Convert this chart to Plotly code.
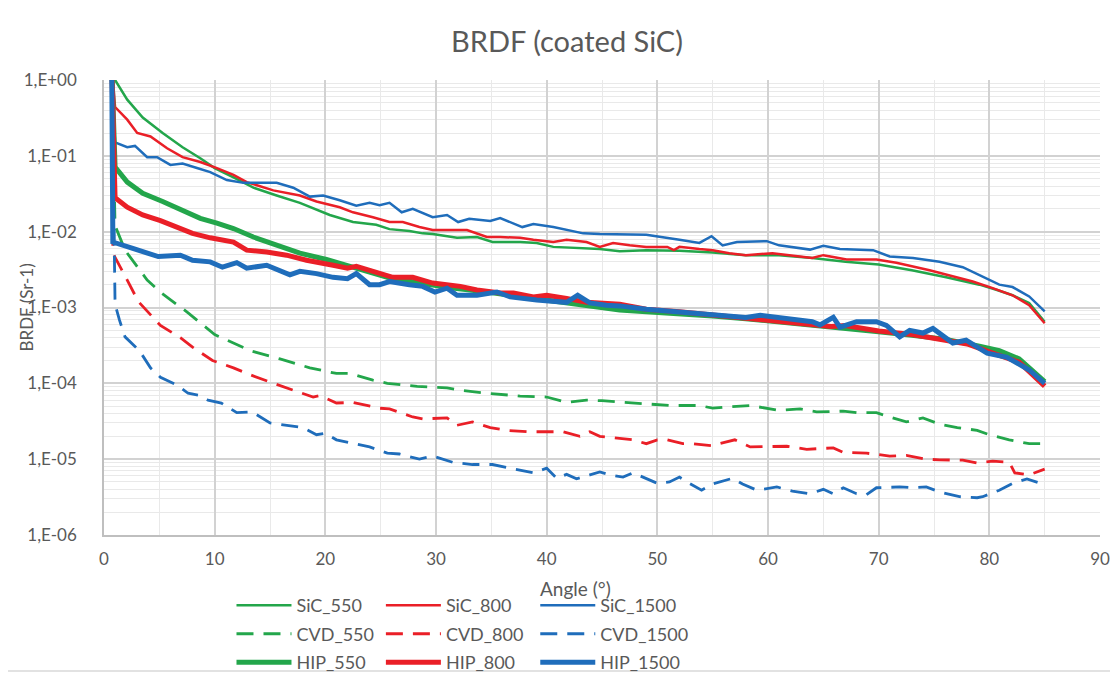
import plotly.graph_objects as go

# ---------------- data ----------------
SIC_550_X = [0.7, 1, 2.1, 3.5, 5.3, 7.1, 8.7, 10, 11.7, 13.5, 15.6, 17.7, 20.4, 22.5, 24.6, 25.8, 27.6, 28.8,
             29.7, 31.9, 33.7, 35.1, 37.6, 39.1, 40.6, 43, 44.8, 46.6, 49, 52, 55, 58, 61, 64, 67, 70, 73,
             76.1, 79.1, 80.7, 82.1, 83.6, 85]
SIC_550_Y = [1.5, 1.0, 0.55, 0.32, 0.20, 0.13, 0.093, 0.069, 0.052, 0.038, 0.030, 0.024, 0.0166, 0.0134,
             0.0123, 0.0108, 0.0102, 0.0095, 0.0093, 0.0083, 0.0085, 0.0073, 0.0073, 0.0071, 0.0063, 0.0060,
             0.0059, 0.0055, 0.0057, 0.0056, 0.0053, 0.0049, 0.0049, 0.0045, 0.0040, 0.0037, 0.0031, 0.0025,
             0.0020, 0.0017, 0.00145, 0.00115, 0.00065]

SIC_800_X = [0.7, 1, 2.1, 3, 4.2, 5.7, 7.1, 8.7, 10.2, 11.7, 12.9, 15.3, 17.7, 19.2, 21.3, 22.5, 24.3, 25.8,
             27, 28.5, 29.7, 31.5, 32.8, 34.6, 35.8, 37.6, 38.8, 40.6, 41.8, 43.6, 44.8, 46, 47.5, 49, 50.9,
             51.5, 52, 53.8, 55, 56.5, 58, 60.4, 62, 64, 65, 67.1, 69.8, 71.6, 74.6, 76.1, 78.5, 80.3, 82.1,
             83.6, 85]
SIC_800_Y = [1.5, 0.44, 0.30, 0.20, 0.18, 0.126, 0.096, 0.083, 0.069, 0.056, 0.045, 0.035, 0.030, 0.025,
             0.021, 0.018, 0.0155, 0.0134, 0.0134, 0.0115, 0.0105, 0.0105, 0.0105, 0.0085, 0.0085, 0.0083,
             0.0078, 0.0073, 0.0078, 0.0073, 0.0063, 0.0071, 0.0066, 0.0063, 0.0063, 0.0057, 0.0063, 0.0059,
             0.0057, 0.0052, 0.0049, 0.0052, 0.0049, 0.0045, 0.0049, 0.0043, 0.0043, 0.0039, 0.0031, 0.0027,
             0.0022, 0.0018, 0.00145, 0.00107, 0.00062]

SIC_1500_X = [0.7, 1, 2.1, 2.8, 3.9, 4.8, 6, 7.1, 8.4, 9.6, 11.1, 12.6, 14.1, 15.6, 17.1, 18.6, 19.8, 21.3,
              22.8, 24, 24.9, 25.8, 26.9, 27.9, 29.7, 31, 32, 33, 34.9, 35.8, 37.8, 38.8, 40.6, 41.8, 43.3,
              44.8, 46.6, 49, 52, 53.8, 54.9, 55.9, 57.2, 59.9, 61, 63.8, 65, 66.5, 69.5, 71, 73.1, 75.5,
              77.6, 79.1, 80.9, 82.1, 83.6, 85]
SIC_1500_Y = [1.5, 0.15, 0.13, 0.135, 0.096, 0.096, 0.076, 0.079, 0.069, 0.061, 0.048, 0.044, 0.044, 0.044,
              0.038, 0.029, 0.030, 0.026, 0.022, 0.024, 0.0224, 0.024, 0.018, 0.020, 0.0155, 0.0166, 0.0134,
              0.0148, 0.0138, 0.0151, 0.0115, 0.0126, 0.0115, 0.0105, 0.0095, 0.0093, 0.0093, 0.0091, 0.0078,
              0.0071, 0.0087, 0.0066, 0.0073, 0.0075, 0.0066, 0.0058, 0.0065, 0.0059, 0.0057, 0.0047, 0.0045,
              0.0040, 0.0034, 0.0027, 0.0020, 0.00186, 0.0014, 0.00089]

CVD_550_X = [0.7, 1, 1.9, 3.9, 5.2, 7.6, 10, 13.2, 15.9, 18.6, 21, 22.2, 24.3, 25.6, 28.3, 31, 32.2, 34.6,
             37.6, 40, 41.8, 43.6, 45, 48.1, 51.1, 53.8, 55, 56.3, 58.4, 61, 62.9, 64.4, 66.8, 68, 69.8, 71,
             72.5, 74, 75.5, 77.1, 78.9, 80, 81.8, 83.6, 85]
CVD_550_Y = [1.5, 0.012, 0.0057, 0.0023, 0.00155, 0.00085, 0.00044, 0.00027, 0.00021, 0.00016, 0.000135,
             0.000135, 0.00011, 0.0001, 0.000091, 0.000087, 0.000081, 0.000074, 0.000068, 0.000066, 0.000056,
             0.00006, 0.000059, 0.000055, 0.000051, 0.000051, 0.000047, 0.000049, 0.000051, 0.000044,
             0.000046, 0.000042, 0.000043, 0.000041, 0.000041, 0.000036, 0.000031, 0.000035, 0.000029,
             0.000026, 0.000024, 0.000021, 0.000018, 0.000016, 0.000016]

CVD_800_X = [0.7, 0.8, 2.1, 3.1, 5.1, 6.9, 8, 9.8, 11.7, 13.2, 15.3, 17.7, 18.9, 19.5, 21, 22.5, 24.9, 25.8,
             27.9, 28.8, 31, 31.9, 33.3, 34.9, 36.4, 38.2, 40.3, 41.5, 43, 43.9, 44.8, 46, 47.8, 49, 50, 50.9,
             52.3, 53.2, 55, 55.6, 57, 58.4, 59.9, 61.7, 63.5, 65, 65.9, 66.8, 68.9, 71, 72.5, 74.3, 75.5,
             77.6, 78.9, 80.3, 81.8, 82.3, 83.6, 85]
CVD_800_Y = [1.5, 0.0052, 0.0023, 0.0012, 0.00058, 0.0004, 0.0003, 0.0002, 0.00016, 0.00013, 0.0001,
             0.000076, 0.000066, 0.000069, 0.000055, 0.000056, 0.000047, 0.000046, 0.000036, 0.000034,
             0.000035, 0.000028, 0.000031, 0.000026, 0.000024, 0.000023, 0.000023, 0.000023, 0.00002,
             0.000023, 0.00002, 0.000019, 0.000018, 0.000016, 0.000018, 0.000018, 0.000016, 0.000016,
             0.000015, 0.000016, 0.000018, 0.0000145, 0.0000145, 0.0000148, 0.0000135, 0.0000138,
             0.0000141, 0.0000123, 0.000012, 0.000011, 0.0000112, 0.00001, 0.0000098, 0.0000097, 0.0000089,
             0.0000094, 0.0000091, 0.0000066, 0.0000062, 0.0000074]

CVD_1500_X = [0.7, 1, 1.4, 1.9, 3.2, 4.2, 5.1, 6.6, 7.6, 8.7, 9.4, 10.6, 12, 13.4, 15, 16.5, 18, 19.2, 20,
              21, 22.5, 24, 25.6, 26.7, 28.5, 29.7, 31.5, 33.3, 35.1, 36.7, 38.8, 40, 40.9, 41.8, 42.7, 43.9,
              44.8, 45.7, 46.9, 47.8, 48.7, 50, 51.1, 52, 52.9, 54, 55, 55.6, 56.8, 57.7, 59, 60.8, 62.2,
              63.8, 65, 65.9, 66.8, 68, 68.9, 69.8, 71.9, 73.1, 74.3, 75.5, 77.3, 78.9, 79.4, 80.9, 82.1,
              83.4, 85]
CVD_1500_Y = [1.5, 0.0011, 0.00068, 0.00041, 0.00027, 0.00016, 0.00012, 0.000095, 0.000074, 0.000069,
              0.00006, 0.000055, 0.000041, 0.000042, 0.00003, 0.000028, 0.000026, 0.000021, 0.000022,
              0.000018, 0.000016, 0.0000145, 0.000012, 0.0000117, 0.00001, 0.000011, 0.0000091, 0.0000085,
              0.0000085, 0.0000076, 0.0000066, 0.0000076, 0.0000056, 0.0000063, 0.0000055, 0.0000062,
              0.0000068, 0.0000062, 0.0000058, 0.0000066, 0.0000058, 0.0000048, 0.000005, 0.0000058,
              0.0000048, 0.0000039, 0.0000047, 0.000005, 0.0000056, 0.0000047, 0.0000039, 0.0000043,
              0.0000038, 0.0000035, 0.000004, 0.0000035, 0.0000042, 0.0000035, 0.0000034, 0.0000042,
              0.0000043, 0.0000042, 0.0000043, 0.0000037, 0.0000032, 0.0000031, 0.0000032, 0.0000039,
              0.0000048, 0.0000055, 0.0000046]

HIP_550_X = [0.7, 1, 2.1, 3.5, 5.3, 7.1, 8.7, 10.2, 11.7, 13.5, 15.6, 17.7, 20.1, 22.5, 25.6, 28.5, 31.5,
             34.6, 37.6, 40.6, 43.6, 46.6, 49, 52, 55, 58, 61, 64, 67, 70, 73, 76.1, 79.1, 80.9, 82.7, 85]
HIP_550_Y = [1.5, 0.071, 0.045, 0.032, 0.025, 0.019, 0.015, 0.013, 0.011, 0.0085, 0.0066, 0.0052, 0.0043,
             0.0034, 0.0025, 0.0021, 0.0018, 0.0016, 0.0014, 0.0012, 0.00107, 0.00093, 0.00088, 0.00083,
             0.00077, 0.00071, 0.00065, 0.00059, 0.00053, 0.00048, 0.00043, 0.00038, 0.00031, 0.00027,
             0.00021, 0.000105]

HIP_800_X = [0.7, 1, 2.1, 3.5, 5.1, 6.6, 8, 9.6, 11.7, 12.9, 14.7, 16.5, 18.3, 20.7, 22, 22.8, 24.3, 26.1,
             27.9, 29.7, 32.2, 33.7, 35.8, 37, 38.8, 40, 41.8, 43.6, 46.6, 49, 52, 55, 58, 61, 63.5, 65.7,
             67, 70, 73, 76, 78, 80, 82.7, 85]
HIP_800_Y = [1.5, 0.028, 0.021, 0.0166, 0.014, 0.0115, 0.0095, 0.0083, 0.0073, 0.0057, 0.0054, 0.0049,
             0.0042, 0.0036, 0.0033, 0.0035, 0.0030, 0.0025, 0.0025, 0.0021, 0.0019, 0.0017, 0.00155,
             0.00155, 0.00138, 0.00145, 0.00132, 0.00117, 0.0011, 0.00095, 0.00088, 0.0008, 0.00074,
             0.00066, 0.00062, 0.00056, 0.00058, 0.00049, 0.00044, 0.00037, 0.00033, 0.00026, 0.00019,
             0.000092]

HIP_1500_X = [0.7, 0.8, 2.6, 3.5, 4.9, 6.9, 8, 9.6, 10.7, 12, 12.9, 14.7, 16.8, 17.7, 19.2, 20.7, 22, 22.8,
              24, 24.9, 25.8, 27.6, 28.8, 29.9, 31, 31.9, 33.7, 35.5, 36.7, 39.1, 40.6, 41.8, 42.8, 43.9,
              45.4, 46.6, 49, 52, 55, 58, 59.3, 62, 64, 64.7, 65.9, 66.5, 68, 69.8, 70.7, 71.9, 72.8, 74,
              74.9, 76.7, 77.9, 79.8, 81.6, 83.6, 85]
HIP_1500_Y = [1.5, 0.0073, 0.006, 0.0054, 0.0047, 0.0049, 0.0042, 0.004, 0.0034, 0.0039, 0.0033, 0.0036,
              0.0027, 0.0030, 0.0028, 0.0025, 0.0024, 0.0028, 0.0020, 0.0020, 0.0022, 0.0020, 0.0019, 0.0016,
              0.0018, 0.00145, 0.00145, 0.0016, 0.00138, 0.00126, 0.0012, 0.00117, 0.00145, 0.00115,
              0.00107, 0.00105, 0.00095, 0.00087, 0.00079, 0.00074, 0.00079, 0.0007, 0.00065, 0.00059,
              0.00074, 0.00055, 0.00065, 0.00065, 0.00058, 0.00041, 0.0005, 0.00046, 0.00053, 0.00034,
              0.00037, 0.00025, 0.00022, 0.00015, 0.0001]

Y_TICK_VALS = [1e-6, 1e-5, 1e-4, 1e-3, 1e-2, 1e-1, 1]
Y_TICK_TEXT = ["1,E-06", "1,E-05", "1,E-04", "1,E-03", "1,E-02", "1,E-01", "1,E+00"]

GREEN, RED, BLUE = "#23a64b", "#ea1f27", "#1f6dbb"
FONT = "Lato"
TXT = "#595959"

# the page's body has an 8 px default margin, so the figure is drawn 8 px smaller
W, H = 1110, 668
ML, MT, PW, PH = 96, 72, 996, 455

series = [
    ("SiC_550", SIC_550_X, SIC_550_Y, GREEN, 2.5, "solid", "legend"),
    ("SiC_800", SIC_800_X, SIC_800_Y, RED, 2.5, "solid", "legend2"),
    ("SiC_1500", SIC_1500_X, SIC_1500_Y, BLUE, 2.5, "solid", "legend3"),
    ("CVD_550", CVD_550_X, CVD_550_Y, GREEN, 2.8, "17px,10px", "legend"),
    ("CVD_800", CVD_800_X, CVD_800_Y, RED, 2.8, "17px,10px", "legend2"),
    ("CVD_1500", CVD_1500_X, CVD_1500_Y, BLUE, 2.8, "17px,10px", "legend3"),
    ("HIP_550", HIP_550_X, HIP_550_Y, GREEN, 5, "solid", "legend"),
    ("HIP_800", HIP_800_X, HIP_800_Y, RED, 5, "solid", "legend2"),
    ("HIP_1500", HIP_1500_X, HIP_1500_Y, BLUE, 5, "solid", "legend3"),
]

fig = go.Figure()
for name, xs, ys, col, w, dash, leg in series:
    fig.add_trace(go.Scatter(
        x=xs, y=ys, name=name, mode="lines",
        line=dict(color=col, width=w, dash=dash),
        legend=leg, legendgroup=name, cliponaxis=True,
    ))

legend_common = dict(
    orientation="v", font=dict(family=FONT, size=18, color=TXT),
    bgcolor="rgba(0,0,0,0)", borderwidth=0, tracegroupgap=2,
    traceorder="grouped", itemwidth=55, yanchor="top", xanchor="left",
)
LEG_Y = -0.1146

fig.update_layout(
    width=W, height=H,
    paper_bgcolor="white", plot_bgcolor="white",
    margin=dict(l=ML, r=W - ML - PW, t=MT, b=H - MT - PH, autoexpand=False),
    font=dict(family=FONT, color=TXT),
    title=dict(text="BRDF (coated SiC)", x=(567 - 8) / W, xref="container", xanchor="center",
               y=1 - 34 / H, yref="container", yanchor="middle",
               font=dict(family=FONT, size=29, color=TXT)),
    xaxis=dict(range=[0, 90], dtick=10, tick0=0, showgrid=True, gridcolor="#d2d2d2", gridwidth=1.5,
               minor=dict(dtick=5, showgrid=True, gridcolor="#e9e9e9", gridwidth=1),
               showline=True, linecolor="#bfbfbf", linewidth=1.5, zeroline=False,
               ticks="", ticklabelstandoff=8,
               tickfont=dict(family=FONT, size=17, color=TXT)),
    yaxis=dict(type="log", range=[-6, 0], tickmode="array", tickvals=Y_TICK_VALS, ticktext=Y_TICK_TEXT,
               showgrid=True, gridcolor="#d2d2d2", gridwidth=1.5,
               minor=dict(dtick="D1", showgrid=True, gridcolor="#e9e9e9", gridwidth=1),
               showline=True, linecolor="#bfbfbf", linewidth=1.5, zeroline=False,
               ticks="", ticklabelstandoff=22,
               tickfont=dict(family=FONT, size=17, color=TXT)),
    legend=dict(x=0.128, y=LEG_Y, **legend_common),
    legend2=dict(x=0.278, y=LEG_Y, **legend_common),
    legend3=dict(x=0.433, y=LEG_Y, **legend_common),
    showlegend=True,
)

# x-axis title (sits among the legend entries, as in the reference)
fig.add_annotation(text="Angle (°)", xref="paper", yref="paper", x=(575 - 104) / PW, y=(535 - 588) / PH,
                   showarrow=False, font=dict(family=FONT, size=19, color=TXT),
                   xanchor="center", yanchor="middle")
# y-axis title
fig.add_annotation(text="BRDF (Sr-1)", xref="paper", yref="paper", x=(26 - 104) / PW, y=0.5,
                   textangle=-90, showarrow=False, font=dict(family=FONT, size=17, color=TXT),
                   xanchor="center", yanchor="middle")
# outer chart frame
fig.add_shape(type="rect", xref="paper", yref="paper",
              x0=(7 - 104) / PW, x1=(1115 - 104) / PW, y0=(535 - 671) / PH, y1=(535 - 4) / PH,
              line=dict(color="#d9d9d9", width=1.5), fillcolor="rgba(0,0,0,0)", layer="below")

fig.write_html("out.html")
